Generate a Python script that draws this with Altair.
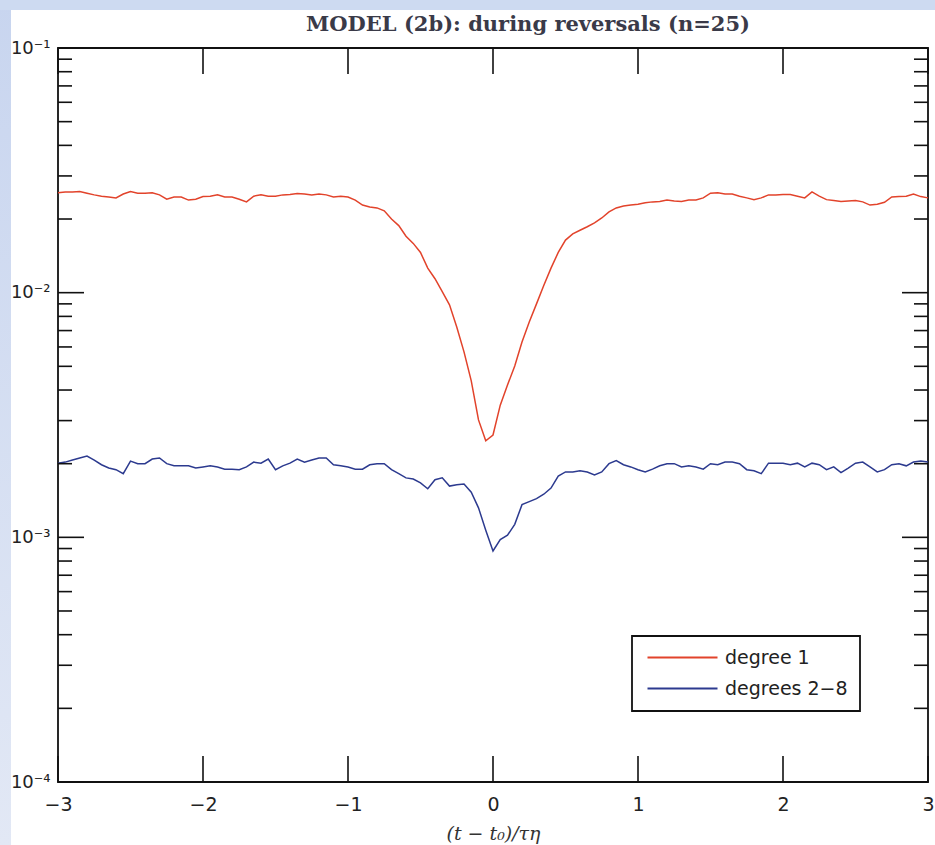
import altair as alt
import pandas as pd

# ---------------- data ----------------
x_vals = [round(-3 + 0.05 * i, 2) for i in range(121)]

series_names = ["degree 1", "degrees 2\u22128"]
series_colors = ["#e2432b", "#2c3a8f"]

degree1 = [
    0.0256, 0.0258, 0.0258, 0.0259, 0.0255, 0.0251, 0.0248, 0.0246, 0.0244, 0.0253,
    0.0259, 0.0255, 0.0255, 0.0256, 0.0251, 0.0241, 0.0246, 0.0246, 0.0239, 0.0241,
    0.0247, 0.0248, 0.0251, 0.0246, 0.0246, 0.0241, 0.0235, 0.0248, 0.0251, 0.0248,
    0.0248, 0.0251, 0.0252, 0.0254, 0.0253, 0.0251, 0.0253, 0.0251, 0.0246, 0.0248,
    0.0246,
    0.0239, 0.0228, 0.0224, 0.0222, 0.0216, 0.0200, 0.0188, 0.0170, 0.0159, 0.0146,
    0.0126, 0.0114, 0.0101, 0.00892, 0.00724, 0.00573, 0.00436, 0.00302, 0.00248, 0.00262,
    0.00347, 0.00419, 0.00502, 0.00629, 0.00759, 0.00900, 0.0107, 0.0126, 0.0146, 0.0164,
    0.0174, 0.0180, 0.0186, 0.0193, 0.0202, 0.0214, 0.0222, 0.0226, 0.0228, 0.0230,
    0.0233, 0.0235, 0.0236, 0.0239, 0.0237, 0.0236, 0.0239, 0.0239, 0.0244, 0.0255,
    0.0256, 0.0253, 0.0253, 0.0248, 0.0244, 0.0240, 0.0244, 0.0251, 0.0251, 0.0252,
    0.0252, 0.0248, 0.0244, 0.0258, 0.0248, 0.0240, 0.0238, 0.0236, 0.0237, 0.0238,
    0.0235, 0.0228, 0.0230, 0.0234, 0.0246, 0.0247, 0.0248, 0.0253, 0.0247, 0.0244,
]

degrees2_8 = [
    0.00201, 0.00203, 0.00207, 0.00211, 0.00215, 0.00207, 0.00198, 0.00192, 0.00189, 0.00182,
    0.00205, 0.00200, 0.00200, 0.00209, 0.00211, 0.00200, 0.00196, 0.00196, 0.00196, 0.00192,
    0.00194, 0.00196, 0.00194, 0.00190, 0.00190, 0.00189, 0.00194, 0.00203, 0.00201, 0.00209,
    0.00189, 0.00196, 0.00201, 0.00209, 0.00203, 0.00207, 0.00211, 0.00211, 0.00198, 0.00196,
    0.00194,
    0.00190, 0.00190, 0.00198, 0.00200, 0.00200, 0.00189, 0.00182, 0.00175, 0.00173, 0.00167,
    0.00158, 0.00172, 0.00175, 0.00162, 0.00164, 0.00165, 0.00153, 0.00132, 0.00107, 0.00088,
    0.00098, 0.00102, 0.00113, 0.00136, 0.00140, 0.00144, 0.00150, 0.00159, 0.00178, 0.00185,
    0.00185, 0.00187, 0.00185, 0.00180, 0.00185, 0.00200, 0.00206, 0.00198, 0.00194, 0.00189,
    0.00185, 0.00190, 0.00196, 0.00200, 0.00200, 0.00194, 0.00196, 0.00194, 0.00190, 0.00200,
    0.00198, 0.00203, 0.00203, 0.00200, 0.00189, 0.00187, 0.00182, 0.00201, 0.00201, 0.00201,
    0.00198, 0.00201, 0.00194, 0.00201, 0.00198, 0.00189, 0.00194, 0.00184, 0.00192, 0.00201,
    0.00203, 0.00194, 0.00185, 0.00189, 0.00198, 0.00200, 0.00196, 0.00203, 0.00205, 0.00203,
]

y_major = [1e-4, 1e-3, 1e-2, 1e-1]
y_labels = ["10\u207b\u2074", "10\u207b\u00b3", "10\u207b\u00b2", "10\u207b\u00b9"]
mantissas = [2, 3, 4, 5, 6, 7, 8, 9]
y_minor = [m * 10.0 ** e for e in (-4, -3, -2) for m in mantissas]
x_ticks = [-3, -2, -1, 0, 1, 2, 3]

title_text = "MODEL (2b): during reversals (n=25)"
x_title = "(t \u2212 t\u2080)/\u03c4\u03b7"

# ---------------- layout constants ----------------
W, H = 870, 734
PAD = {"left": 58, "top": 48, "right": 7, "bottom": 63}
MAJOR, MINOR = 26, 14
INK = "#111111"

df = pd.DataFrame({
    "x": x_vals * 2,
    "value": degree1 + degrees2_8,
    "series": [series_names[0]] * len(x_vals) + [series_names[1]] * len(x_vals),
})

xscale = alt.Scale(domain=[-3, 3], nice=False, zero=False)
yscale = alt.Scale(type="log", domain=[1e-4, 1e-1], nice=False)

x_lab_expr = "datum.value < 0 ? '\u2212' + abs(datum.value) + '\u2007' : datum.label"
y_lab_expr = "[" + ",".join("'" + s + "'" for s in y_labels) + "][round(log(datum.value)/LN10) + 4]"

XAX = alt.Axis(
    values=x_ticks, ticks=False, domain=False, grid=False, labelFlush=False,
    labelFont="DejaVu Sans", labelFontSize=19, labelColor="#222222", labelPadding=13,
    labelExpr=x_lab_expr,
    title=x_title, titleFont="DejaVu Serif", titleFontStyle="italic",
    titleFontWeight="normal", titleFontSize=19, titleColor="#333333", titlePadding=10)
YAX = alt.Axis(
    values=y_major, ticks=False, domain=False, grid=False,
    labelFont="DejaVu Sans", labelFontSize=18, labelColor="#222222", labelPadding=8,
    labelExpr=y_lab_expr, title=None)

one = pd.DataFrame({"a": [0]})

# background strips (outside the white panel)
left_strip = alt.Chart(one).mark_rect(
    fill={"gradient": "linear", "x1": 0, "y1": 0, "x2": 0, "y2": 1,
          "stops": [{"offset": 0, "color": "#c8d5ef"}, {"offset": 1, "color": "#e2e8f5"}]}
).encode(x=alt.value(-PAD["left"]), x2=alt.value(-47),
         y=alt.value(-PAD["top"]), y2=alt.value(H + PAD["bottom"]))
top_strip = alt.Chart(one).mark_rect(fill="#cddaf1").encode(
    x=alt.value(-PAD["left"]), x2=alt.value(W + PAD["right"]),
    y=alt.value(-PAD["top"]), y2=alt.value(-38))

title_mark = alt.Chart(one).mark_text(
    font="DejaVu Serif", fontSize=21, fontWeight="bold", color="#3a3a48",
    align="center", baseline="alphabetic"
).encode(x=alt.value(W / 2 + 35), y=alt.value(-17), text=alt.value(title_text))

lines = alt.Chart(df).mark_line(strokeWidth=1.5).encode(
    x=alt.X("x:Q", scale=xscale, axis=XAX),
    y=alt.Y("value:Q", scale=yscale, axis=YAX),
    color=alt.Color("series:N", scale=alt.Scale(domain=series_names, range=series_colors),
                    legend=alt.Legend(
                        orient="none", legendX=574, legendY=588, title=None,
                        symbolType="M-5,0L5,0", symbolSize=196, symbolStrokeWidth=1.8,
                        symbolOffset=29, labelOffset=33,
                        labelExpr="datum.label + '\u2007'",
                        labelFont="DejaVu Sans", labelFontSize=19, labelColor="#222222",
                        strokeColor=INK, fillColor="white", padding=12, rowPadding=11)),
)

ymaj_df = pd.DataFrame({"value": y_major})
ymin_df = pd.DataFrame({"value": y_minor})
xt_df = pd.DataFrame({"x": x_ticks})

def yticks(data, length, right):
    x0 = W - length if right else 0
    x1 = W if right else length
    return alt.Chart(data).mark_rule(color=INK, strokeWidth=1.6).encode(
        y=alt.Y("value:Q", scale=yscale, axis=YAX), x=alt.value(x0), x2=alt.value(x1))

def xticks(top):
    y0, y1 = (0, MAJOR) if top else (H - MAJOR, H)
    return alt.Chart(xt_df).mark_rule(color=INK, strokeWidth=1.6).encode(
        x=alt.X("x:Q", scale=xscale, axis=XAX), y=alt.value(y0), y2=alt.value(y1))

chart = alt.layer(
    left_strip, top_strip, title_mark,
    lines,
    yticks(ymaj_df, MAJOR, False), yticks(ymaj_df, MAJOR, True),
    yticks(ymin_df, MINOR, False), yticks(ymin_df, MINOR, True),
    xticks(False), xticks(True),
).properties(
    width=W, height=H,
    autosize=alt.AutoSizeParams(type="none"),
    padding=PAD,
    background="white",
).configure_view(stroke=INK, strokeWidth=1.8).configure_legend(strokeWidth=1.8)

chart.save("out.html", embed_options={"renderer": "svg", "actions": False})
